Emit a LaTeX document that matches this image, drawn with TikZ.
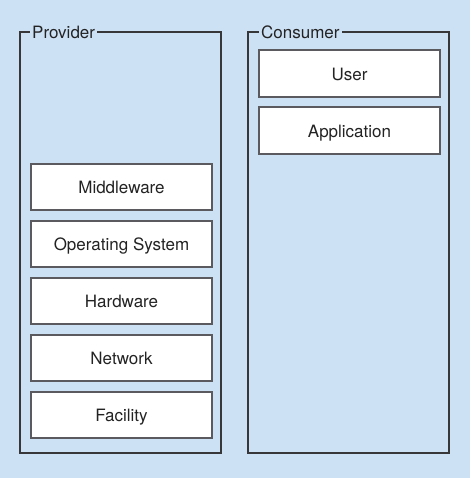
\documentclass[tikz,border=0pt]{standalone}
\usepackage{fontspec}
\setmainfont{TeX Gyre Heros}
\definecolor{bg}{RGB}{205,225,245}
\definecolor{frame}{RGB}{55,55,58}
\definecolor{boxline}{RGB}{90,90,95}
\definecolor{txt}{RGB}{35,35,35}
\begin{document}
\begin{tikzpicture}[x=1pt,y=-1pt,
  frame/.style={draw=frame,line width=2.4pt,rectangle,inner sep=0pt,outer sep=0pt,minimum width=201pt,minimum height=421pt},
  ftitle/.style={fill=bg,inner xsep=2pt,inner ysep=1pt,anchor=base west,text=txt,font=\fontsize{17}{19}\selectfont},
  layer/.style={draw=boxline,fill=white,line width=1.2pt,rectangle,inner sep=0pt,outer sep=0pt,minimum width=181pt,minimum height=46pt,text height=13.5pt,text depth=0pt,text=txt,font=\fontsize{17}{19}\selectfont}]
\fill[bg] (0,0) rectangle (470,478);
\useasboundingbox (0,0) rectangle (470,478);
\node[frame] (prov) at (120.5,242.5) {};
\node[frame] (cons) at (348.5,242.5) {};
\node[ftitle] (provt) at (30,38.5) {Provider};
\node[ftitle] (const) at (259,38.5) {Consumer};
\node[layer] (mw) at (121.5,187) {Middleware};
\node[layer] (os) at (121.5,244) {Operating System};
\node[layer] (hw) at (121.5,301) {Hardware};
\node[layer] (nw) at (121.5,358) {Network};
\node[layer] (fac) at (121.5,415) {Facility};
\node[layer,minimum height=47pt] (user) at (349.5,73.5) {User};
\node[layer,minimum height=47pt] (app) at (349.5,130.5) {Application};
\end{tikzpicture}
\end{document}
